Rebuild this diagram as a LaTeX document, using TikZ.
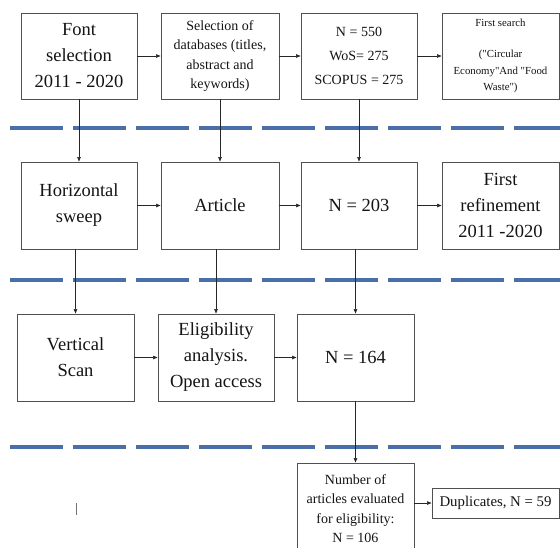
\documentclass[tikz,border=0pt]{standalone}
\usepackage{fontspec}
\setmainfont{Liberation Serif}
\newfontfamily\tnr{Liberation Serif}
\usetikzlibrary{arrows.meta,calc}
\definecolor{dashblue}{HTML}{4A6EA8}
\definecolor{boxline}{HTML}{505050}
\begin{document}
\begin{tikzpicture}[x=1pt,y=-1pt,
 box/.style={draw=boxline, line width=0.9pt, fill=white, inner sep=0pt, align=center, text=black!92},
 big/.style={font=\tnr\fontsize{18.5}{26}\selectfont},
 mid/.style={font=\tnr\fontsize{14}{19.5}\selectfont},
 small/.style={font=\tnr\fontsize{10.8}{16.5}\selectfont},
 rowbox/.style={minimum width=117pt, minimum height=87pt},
 arr/.style={-{Triangle[length=4.5pt,width=3.5pt]}, line width=0.6pt, black!85},
 sep/.style={dashblue, line width=3.4pt, dash pattern=on 53pt off 10pt}]
\useasboundingbox (0,0) rectangle (560,547);
\clip (0,0) rectangle (560,547);

% separators
\draw[sep] (10,128) -- (560,128);
\draw[sep] (10,280) -- (560,280);
\draw[sep] (10,447) -- (560,447);

% row 1
\node[box,big,rowbox,minimum width=116pt,minimum height=86pt] (fs) at (79,56) {Font\\selection\\2011 - 2020};
\node[box,mid,rowbox,minimum width=118pt,minimum height=86pt] (sd) at (220,56) {Selection of\\databases (titles,\\abstract and\\keywords)};
\node[box,rowbox,minimum width=116pt,minimum height=86pt,font=\tnr\fontsize{14}{24}\selectfont] (n550) at (359,56) {N = 550\\WoS= 275\\SCOPUS = 275};
\node[box,small,rowbox,minimum width=117pt,minimum height=86pt] (fsr) at (500.5,56) {First search\\[14.5pt](\char34Circular\\Economy\char34And \char34Food\\Waste\char34)};

% row 2
\node[box,big,rowbox,minimum width=116pt] (hs) at (79,205.5) {Horizontal\\sweep};
\node[box,big,rowbox,minimum width=118pt] (ar) at (220,205.5) {Article};
\node[box,big,rowbox,minimum width=116pt] (n203) at (359,205.5) {N = 203};
\node[box,big,rowbox] (fr) at (500.5,205.5) {First\\refinement\\2011 -2020};

% row 3
\node[box,big,rowbox] (vs) at (75.5,357.5) {Vertical\\Scan};
\node[box,big,rowbox,minimum width=116pt] (el) at (216,357.5) {Eligibility\\analysis.\\Open access};
\node[box,big,rowbox] (n164) at (355.5,357.5) {N = 164};

% row 4
\node[box,mid,minimum width=117pt,minimum height=91pt] (num) at (355.5,508.5) {Number of\\articles evaluated\\for eligibility:\\N = 106};
\node[box,font=\tnr\fontsize{14.8}{18}\selectfont,minimum width=127pt,minimum height=30pt] (dup) at (495.5,503) {Duplicates, N = 59};

% horizontal arrows
\draw[arr] (fs) -- (sd);
\draw[arr] (sd) -- (n550);
\draw[arr] (n550) -- (fsr);
\draw[arr] (hs) -- (ar);
\draw[arr] (ar) -- (n203);
\draw[arr] (n203) -- (fr);
\draw[arr] (vs) -- (el);
\draw[arr] (el) -- (n164);
\draw[arr] (num.east |- dup.west) -- (dup.west);

% vertical arrows
\draw[arr] (fs) -- (hs);
\draw[arr] (sd) -- (ar);
\draw[arr] (n550) -- (n203);
\draw[arr] (hs.south -| vs.north) -- (vs.north);
\draw[arr] (ar.south -| el.north) -- (el.north);
\draw[arr] (n203.south -| n164.north) -- (n164.north);
\draw[arr] (n164) -- (num);

% stray mark
\draw[black!55, line width=0.8pt] (76,503) -- (76,515);
\end{tikzpicture}
\end{document}
